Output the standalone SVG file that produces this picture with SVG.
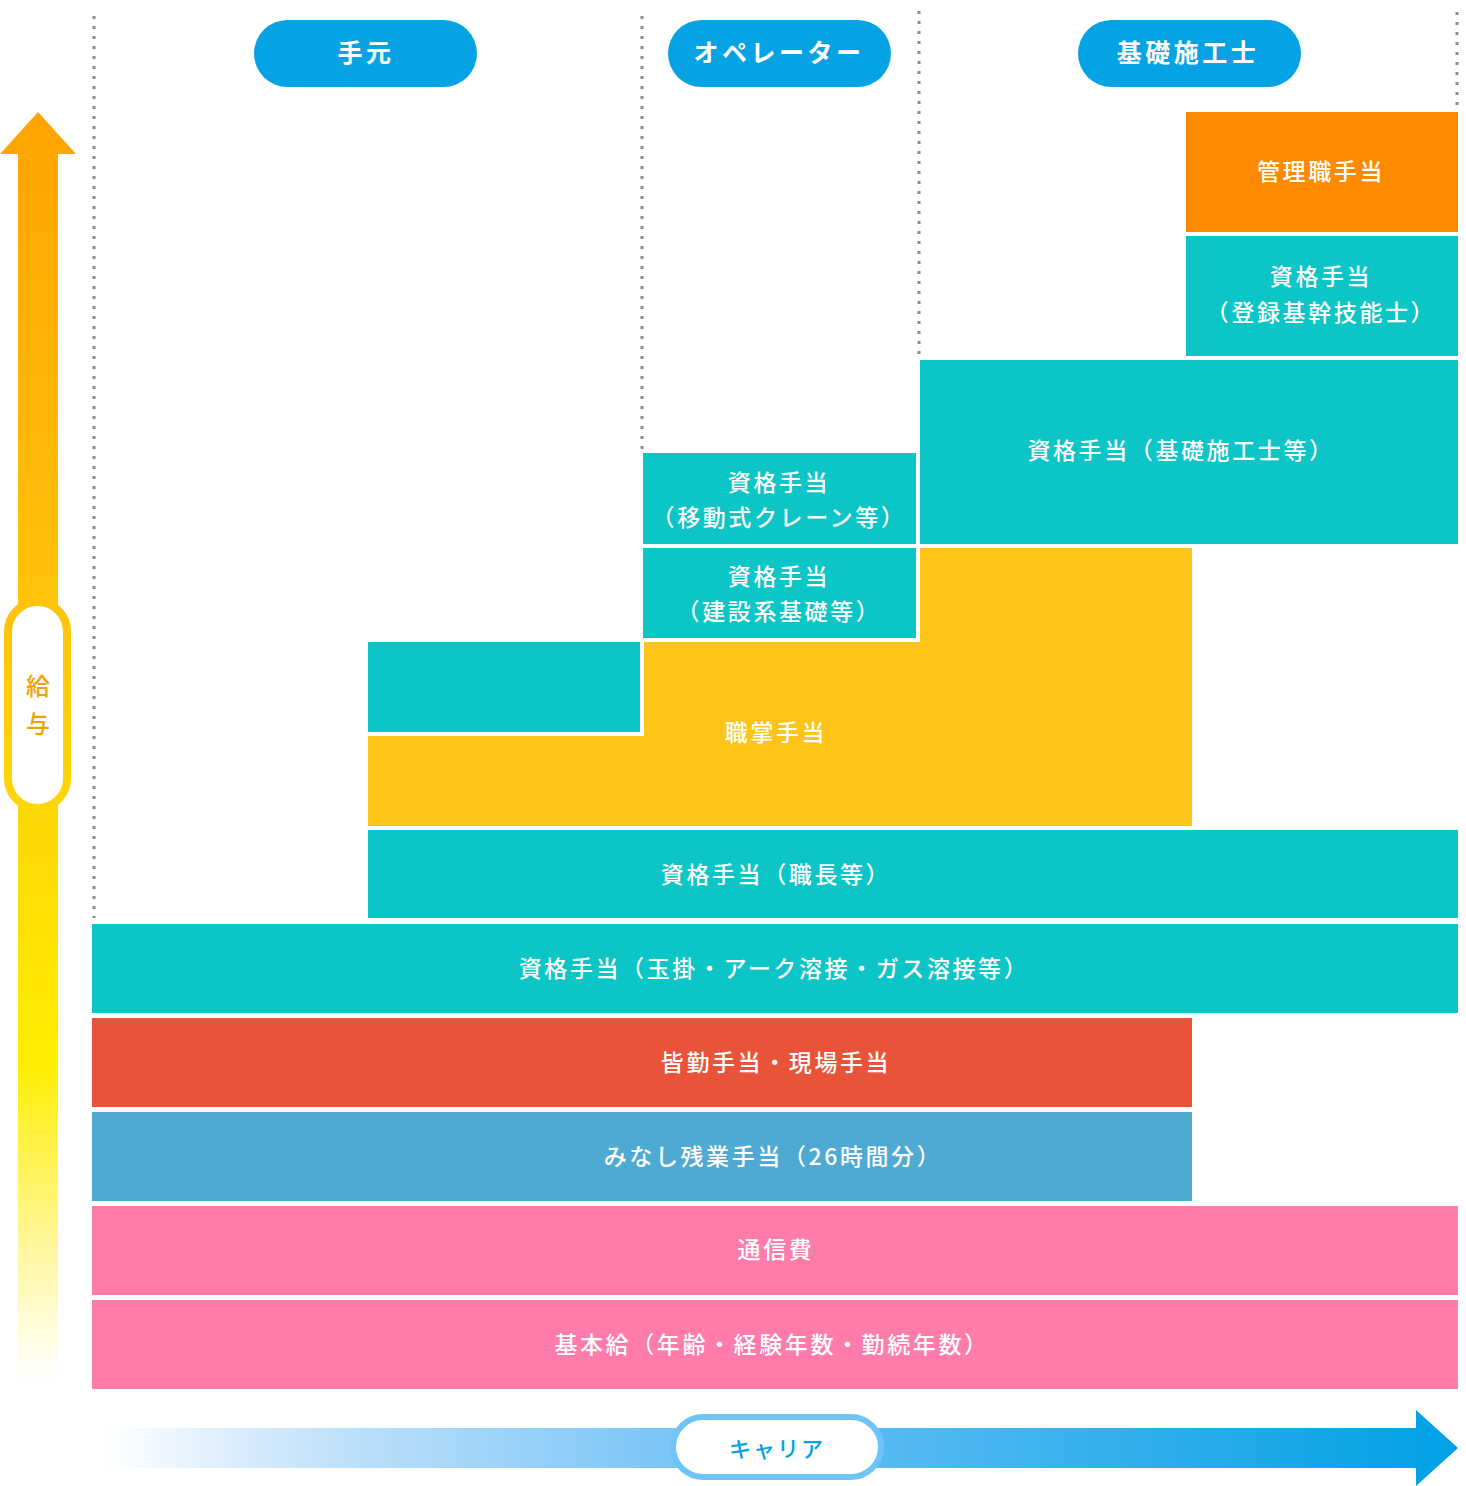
<svg xmlns="http://www.w3.org/2000/svg" width="1466" height="1486" viewBox="0 0 1466 1486">
<defs>
<linearGradient id="gY" gradientUnits="userSpaceOnUse" x1="0" y1="112" x2="0" y2="1378">
<stop offset="0" stop-color="#FFA300"/>
<stop offset="0.4" stop-color="#FFC40C"/>
<stop offset="0.75" stop-color="#FFEE00"/>
<stop offset="0.9" stop-color="#FFF6A0"/>
<stop offset="1" stop-color="#FFFFFF"/>
</linearGradient>
<linearGradient id="gX" gradientUnits="userSpaceOnUse" x1="105" y1="0" x2="1458" y2="0">
<stop offset="0" stop-color="#FFFFFF"/>
<stop offset="0.15" stop-color="#C6E3FB"/>
<stop offset="0.45" stop-color="#6FC2F6"/>
<stop offset="1" stop-color="#00A0E5"/>
</linearGradient>
<style>
.dot{stroke:#8C8C8C;stroke-width:3;stroke-dasharray:3 7;fill:none}
.pill{fill:#05A3E3}
.pt{fill:#FFFFFF;font-family:"Noto Sans CJK JP","Noto Sans",sans-serif;font-size:25px;font-weight:700;letter-spacing:3.5px;text-anchor:middle;dominant-baseline:central}
.lb{fill:#FFFFFF;font-family:"Noto Sans CJK JP","Noto Sans",sans-serif;font-size:23px;font-weight:500;letter-spacing:2.6px;text-anchor:middle;dominant-baseline:central}
.teal{fill:#0BC5C6}
.orange{fill:#FF8A00}
.yellow{fill:#FDC318}
.red{fill:#E8533A}
.blue{fill:#4EA9D3}
.pink{fill:#FF7BAA}
</style>
</defs>
<g id="guides">
<line class="dot" x1="94" y1="16" x2="94" y2="918"/>
<line class="dot" x1="642" y1="16" x2="642" y2="450"/>
<line class="dot" x1="919" y1="11" x2="919" y2="355"/>
<line class="dot" x1="1457" y1="12" x2="1457" y2="106"/>
</g>
<g id="head-temoto"><rect class="pill" x="254" y="20" width="223" height="67" rx="33.5"/><text class="pt" x="366" y="51">手元</text></g>
<g id="head-operator"><rect class="pill" x="668" y="20" width="223" height="67" rx="33.5"/><text class="pt" x="779" y="51">オペレーター</text></g>
<g id="head-kiso"><rect class="pill" x="1078" y="20" width="223" height="67" rx="33.5"/><text class="pt" x="1188" y="51">基礎施工士</text></g>
<g id="axis-salary">
<polygon fill="url(#gY)" points="38,112 76,154 58,154 58,1378 18,1378 18,154 0,154"/>
<rect x="8" y="602" width="59" height="206" rx="29.5" fill="#FFFFFF" stroke="url(#gY)" stroke-width="8"/>
<text x="38" y="684" fill="#F5A000" font-family="'Noto Sans CJK JP','Noto Sans',sans-serif" font-size="24" font-weight="500" text-anchor="middle" dominant-baseline="central">給</text>
<text x="38" y="722" fill="#F5A000" font-family="'Noto Sans CJK JP','Noto Sans',sans-serif" font-size="24" font-weight="500" text-anchor="middle" dominant-baseline="central">与</text>
</g>
<g id="axis-career">
<polygon fill="url(#gX)" points="105,1428 1416,1428 1416,1410 1458,1448 1416,1486 1416,1468 105,1468"/>
<rect x="673" y="1417" width="208" height="60" rx="30" fill="#FFFFFF" stroke="#6EC4F7" stroke-width="6"/>
<text x="777" y="1447" fill="#0AA0E0" font-family="'Noto Sans CJK JP','Noto Sans',sans-serif" font-size="22" font-weight="500" letter-spacing="2" text-anchor="middle" dominant-baseline="central">キャリア</text>
</g>
<g id="connectors"></g>
<g id="kanrishoku"><rect class="orange" x="1186" y="112" width="272" height="120"/><text class="lb" x="1321" y="170">管理職手当</text></g>
<g id="shikaku-toroku"><rect class="teal" x="1186" y="236" width="272" height="120"/><text class="lb" x="1321" y="275">資格手当</text><text class="lb" x="1321" y="311">（登録基幹技能士）</text></g>
<g id="shikaku-kiso"><rect class="teal" x="920" y="360" width="538" height="184"/><text class="lb" x="1181" y="449">資格手当（基礎施工士等）</text></g>
<g id="shikaku-crane"><rect class="teal" x="643" y="453" width="273" height="91"/><text class="lb" x="779" y="481">資格手当</text><text class="lb" x="779" y="516">（移動式クレーン等）</text></g>
<g id="shikaku-kensetsu"><rect class="teal" x="643" y="548" width="273" height="90"/><text class="lb" x="779" y="575">資格手当</text><text class="lb" x="779" y="610">（建設系基礎等）</text></g>
<g id="teal-blank"><rect class="teal" x="368" y="642" width="272" height="90"/></g>
<g id="shokusho"><polygon class="yellow" points="368,736 644,736 644,642 920,642 920,548 1192,548 1192,826 368,826"/><text class="lb" x="776" y="731">職掌手当</text></g>
<g id="shikaku-shokucho"><rect class="teal" x="368" y="830" width="1090" height="88"/><text class="lb" x="776" y="873">資格手当（職長等）</text></g>
<g id="shikaku-tamakake"><rect class="teal" x="92" y="924" width="1366" height="89"/><text class="lb" x="774" y="967">資格手当（玉掛・アーク溶接・ガス溶接等）</text></g>
<g id="kaikin"><rect class="red" x="92" y="1018" width="1100" height="89"/><text class="lb" x="776" y="1061">皆勤手当・現場手当</text></g>
<g id="minashi"><rect class="blue" x="92" y="1112" width="1100" height="89"/><text class="lb" x="773" y="1155">みなし残業手当（26時間分）</text></g>
<g id="tsushin"><rect class="pink" x="92" y="1206" width="1366" height="89"/><text class="lb" x="776" y="1248">通信費</text></g>
<g id="kihonkyu"><rect class="pink" x="92" y="1300" width="1366" height="89"/><text class="lb" x="772" y="1343">基本給（年齢・経験年数・勤続年数）</text></g>
</svg>
